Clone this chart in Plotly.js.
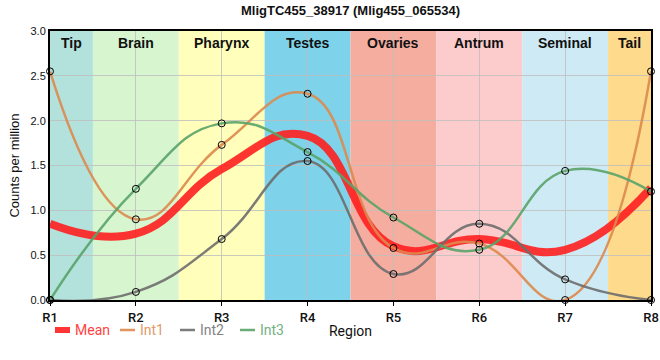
<!DOCTYPE html>
<html><head><meta charset="utf-8">
<script src="https://cdn.plot.ly/plotly-3.0.1.min.js"></script>
<style>body{margin:0;padding:0;background:#fff}#chart{width:660px;height:360px}</style>
</head><body><div id="chart"></div>
<script>
const categories = ["R1","R2","R3","R4","R5","R6","R7","R8"];
const int1 = [2.55, 0.90, 1.73, 2.30, 0.58, 0.63, 0.00, 2.55];
const int2 = [0.00, 0.09, 0.68, 1.55, 0.29, 0.85, 0.23, 0.00];
const int3 = [0.00, 1.24, 1.97, 1.65, 0.92, 0.56, 1.44, 1.21];
const mean = [0.85, 0.74, 1.46, 1.83, 0.60, 0.68, 0.56, 1.25];
const seriesNames = ["Mean","Int1","Int2","Int3"];
const regionNames = ["Tip","Brain","Pharynx","Testes","Ovaries","Antrum","Seminal","Tail"];
const regionColors = ["#b3e2dd","#d7f5cf","#ffffbb","#7ed3ea","#f5ada0","#fccbcb","#ceeaf4","#feda8c"];
const yTicks = [0, 0.5, 1.0, 1.5, 2.0, 2.5, 3.0];

const xs = categories.map((c,i)=>i+1);
const colors = {Mean:"#ff2020", Int1:"#dd8a4e", Int2:"#6e6e6e", Int3:"#5aa46a"};
const widths = {Mean:8, Int1:2.5, Int2:2.5, Int3:2.5};

function lineTrace(name, y){
  return {x:xs, y:y, type:"scatter", mode:"lines", name:name, showlegend:false,
    line:{color:colors[name], width:widths[name], shape:"spline", smoothing:1.3}, opacity:0.9, hoverinfo:"skip"};
}
function markerTrace(y){
  return {x:xs, y:y, type:"scatter", mode:"markers", showlegend:false,
    marker:{symbol:"circle-open", size:7, color:"#000", line:{width:1, color:"#000"}}, cliponaxis:false, hoverinfo:"skip"};
}
const data = [
  lineTrace("Mean", mean), lineTrace("Int1", int1), lineTrace("Int2", int2), lineTrace("Int3", int3),
  markerTrace(int1), markerTrace(int2), markerTrace(int3)
];

const shapes = [], annotations = [];
regionNames.forEach((r,i)=>{
  const x0 = Math.max(1, i+0.5), x1 = Math.min(8, i+1.5);
  shapes.push({type:"rect", xref:"x", yref:"paper", x0:x0, x1:x1, y0:0, y1:1, fillcolor:regionColors[i], line:{width:0}, layer:"below"});
  annotations.push({text:"<b>"+r+"</b>", xref:"x", yref:"paper", x:(x0+x1)/2, y:1, yanchor:"top", yshift:-2, showarrow:false,
    font:{family:"Liberation Sans, Arial", size:14, color:"#111"}});
});

// manual legend (pixel layout converted to paper coords)
const PW = 601, PH = 269, L = 50, B = 300;
const px = p => (p - L) / PW, py = q => (B - q) / PH;
const legX = [55, 120, 180, 240];
seriesNames.forEach((n,i)=>{
  shapes.push({type:"line", xref:"paper", yref:"paper", x0:px(legX[i]), x1:px(legX[i]+15), y0:py(330), y1:py(330),
    line:{color:colors[n], width: n==="Mean" ? 6 : 2.5}, opacity:0.9});
  annotations.push({text:n, xref:"paper", yref:"paper", x:px(legX[i]+19), y:py(330), xanchor:"left", yanchor:"middle", showarrow:false,
    borderpad:0, font:{family:"Roboto", size:14, color:colors[n]}, opacity:0.85});
});

const layout = {
  width:660, height:360,
  margin:{l:50, r:9, t:31, b:60},
  paper_bgcolor:"#fff", plot_bgcolor:"#fff",
  title:{text:"<b>MligTC455_38917 (Mlig455_065534)</b>", x:0.5, xref:"paper", y:0.985, yanchor:"top",
    font:{family:"Liberation Sans, Arial", size:13, color:"#111"}},
  xaxis:{range:[1,8], tickvals:xs, ticktext:categories, showgrid:true, gridcolor:"rgba(190,190,190,0.8)", gridwidth:1,
    zeroline:false, showline:true, linecolor:"#000", linewidth:2, mirror:true, ticks:"outside", ticklen:4, tickcolor:"#000",
    tickfont:{family:"Roboto", size:13, color:"#111", weight:500},
    title:{text:"Region", font:{family:"Roboto", size:14, color:"#111"}, standoff:3}, layer:"above traces"},
  yaxis:{range:[0,3], tickvals:yTicks, ticktext:yTicks.map(v=>v.toFixed(1)), showgrid:true, gridcolor:"rgba(190,190,190,0.8)",
    zeroline:false, showline:true, linecolor:"#000", linewidth:2, mirror:true, ticks:"", tickfont:{family:"Liberation Sans, Arial", size:11, color:"#111"},
    title:{text:"Counts per million", font:{family:"Liberation Sans, Arial", size:13, color:"#111"}, standoff:8}},
  shapes:shapes, annotations:annotations, showlegend:false
};
Plotly.newPlot("chart", data, layout, {displayModeBar:false, staticPlot:true});
</script></body></html>
